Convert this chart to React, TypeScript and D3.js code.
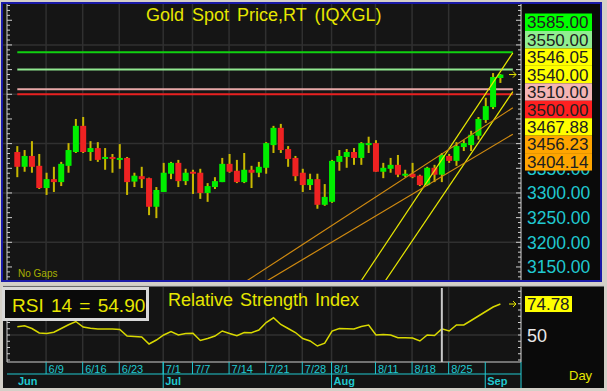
import React from 'react';
import * as d3 from 'd3';

const W = 607, H = 391;
const FONT = "'Liberation Sans', Arial, Helvetica, sans-serif";

const dates = [
  '6/3','6/4','6/5','6/6','6/9','6/10','6/11','6/12','6/13','6/16','6/17','6/18','6/19','6/20','6/23','6/24','6/25','6/26','6/27','6/30',
  '7/1','7/2','7/3','7/4','7/7','7/8','7/9','7/10','7/11','7/14','7/15','7/16','7/17','7/18','7/21','7/22','7/23','7/24','7/25','7/28','7/29','7/30','7/31',
  '8/1','8/4','8/5','8/6','8/7','8/8','8/11','8/12','8/13','8/14','8/15','8/18','8/19','8/20','8/21','8/22','8/25','8/26','8/27','8/28','8/29',
  '9/1','9/2','9/3'
];
const opens = [3383,3353,3375,3355,3310,3328,3322,3355,3383,3436,3383,3391,3369,3373,3367,3371,3323,3334,3330,3272,3302,3339,3361,3324,3343,3341,3300,3312,3322,3359,3345,3322,3347,3341,3351,3397,3432,3389,3371,3341,3316,3328,3276,3282,3363,3373,3383,3371,3397,3401,3343,3349,3357,3335,3339,3335,3316,3351,3337,3375,3365,3393,3397,3416,3448,3474,3533];
const highs = [3395,3387,3405,3379,3341,3353,3363,3401,3450,3454,3405,3403,3391,3379,3399,3373,3341,3353,3331,3312,3361,3363,3367,3349,3347,3349,3320,3332,3371,3379,3367,3381,3355,3363,3403,3436,3440,3395,3375,3349,3339,3339,3318,3367,3387,3389,3391,3403,3414,3407,3361,3371,3377,3347,3361,3337,3353,3357,3381,3379,3403,3407,3426,3454,3493,3543,3541];
const lows = [3332,3343,3341,3308,3296,3302,3314,3341,3381,3381,3365,3363,3347,3341,3349,3296,3312,3310,3255,3249,3302,3328,3312,3316,3298,3288,3282,3308,3322,3341,3320,3320,3310,3332,3339,3381,3381,3353,3324,3302,3306,3268,3274,3280,3345,3351,3357,3357,3381,3343,3330,3341,3332,3332,3330,3314,3314,3322,3322,3361,3355,3385,3385,3408,3442,3470,3523];
const closes = [3353,3375,3353,3310,3328,3322,3359,3387,3436,3383,3391,3367,3373,3369,3371,3322,3335,3328,3272,3306,3341,3361,3324,3341,3339,3300,3314,3324,3359,3343,3322,3347,3341,3353,3401,3432,3387,3369,3334,3316,3328,3276,3292,3365,3375,3383,3371,3401,3401,3343,3351,3357,3337,3339,3332,3316,3351,3337,3377,3365,3395,3401,3418,3450,3476,3535,3540];
const rsi = [56.6,57.4,55.2,51.6,51.2,52.2,55.2,58.2,60.8,56.4,
  55.4,54.8,54.8,54.8,54.4,49.2,48.8,48.4,42.8,46,
  50,52.8,50,51.2,51.4,45.6,47.2,49.2,53.2,51.2,
  49.4,52,51.9,54,60,63.8,58.4,55.2,52,47.2,
  45.2,41.2,43.4,53.2,55.2,55,54.8,56.8,58,50,
  50.4,50,47.8,47.8,47.6,45.2,50,49.6,54.9,53.2,
  58,58,61.6,65.2,68.8,72.4,74.78];

const tickDates = ['6/9','6/16','6/23','7/1','7/7','7/14','7/21','7/28','8/1','8/11','8/18','8/25'];
const monthNames = ['Jun','Jul','Aug','Sep'];
const monthStarts = ['6/3','7/1','8/1','9/1'];

const levelValues = [3585, 3550, 3510, 3500];
const levelColors = ['#10d010', '#90e890', '#e8a8a8', '#e82020'];

const trendEndValues = [3546.05, 3467.88, 3456.23, 3404.14];
const trendSlopes = [22.3, 22.0, 9.65, 8.85];
const trendColors = ['#e8e800', '#e8e800', '#d08a10', '#d08a10'];

const boxLabels = ['3585.00','3550.00','3546.05','3540.00','3510.00','3500.00','3467.88','3456.23','3404.14'];
const boxColors = ['#00ff00','#90ee90','#ffff00','#ffff00','#f4b4b4','#ff2020','#ffff00','#ffa500','#ffa500'];
const axisValues = [3350, 3300, 3250, 3200, 3150];
const gridValues = [3200, 3300, 3400, 3500, 3600];

const rsiLabel = 'RSI 14 = 54.90';
const rsiLast = 74.78;

export default function App() {
  const xi = d3.scaleLinear().domain([0, dates.length - 1]).range([17.3, 500.4]);
  const xd = (d: string) => xi(dates.indexOf(d));
  const y = d3.scaleLinear().domain([3125, 3683]).range([279.3, 4]);
  const yr = d3.scaleLinear().domain([28.4, 88.4]).range([362, 287]);
  const last = dates.length - 1;
  const xEnd = 67.7;

  const rsiLine = d3.line<number>().x((_, i) => xi(i)).y(d => yr(d));

  const yTicks = d3.range(3130, 3681, 10);
  const rTicks = d3.range(30, 88, 5);

  const PL = 3, PR = 521, PT = 4, PB = 280;
  const BH = 17.45;

  return (
    <div style={{ position: 'fixed', left: 0, top: 0 }}>
      <svg width={W} height={H} style={{ display: 'block', fontFamily: FONT }}>
        <defs>
          <clipPath id="plotclip"><rect x={PL} y={PT} width={PR - PL} height={PB - PT} /></clipPath>
        </defs>
        <rect x={0} y={0} width={W} height={H} fill="#d4d0c8" />
        {/* top panel */}
        <rect x={2} y={3} width={599} height={278} fill="#151515" stroke="#1a1aa8" strokeWidth={2} />
        <rect x={522} y={4} width={78} height={276} fill="#0a0a0a" />
        {/* grid */}
        {gridValues.map(v => (
          <line key={v} x1={PL} x2={PR} y1={y(v)} y2={y(v)} stroke="#303030" strokeWidth={1.5} />
        ))}
        {tickDates.map(d => (
          <line key={d} x1={xd(d) - 0.5} x2={xd(d) - 0.5} y1={PT} y2={PB} stroke="#303030" strokeWidth={1.5} />
        ))}
        {/* left / right ticks */}
        <line x1={7} x2={7} y1={PT} y2={PB} stroke="#d0d0d0" strokeWidth={1} />
        {yTicks.map(v => (
          <g key={v}>
            <line x1={7} x2={v % 50 === 0 ? 12 : 10} y1={y(v)} y2={y(v)} stroke="#d0d0d0" strokeWidth={1} />
            <line x1={v % 50 === 0 ? 516 : 518} x2={521} y1={y(v)} y2={y(v)} stroke="#d0d0d0" strokeWidth={1} />
          </g>
        ))}
        <line x1={521} x2={521} y1={PT} y2={PB} stroke="#d0d0d0" strokeWidth={1} />
        {/* title */}
        <text x={146} y={21} fill="#e6e600" fontSize={18} wordSpacing={3}>Gold Spot Price,RT (IQXGL)</text>
        {/* level lines */}
        {levelValues.map((v, i) => (
          <line key={v} x1={xi(0)} x2={xi(xEnd)} y1={y(v)} y2={y(v)} stroke={levelColors[i]} strokeWidth={2} />
        ))}
        {/* candles */}
        {dates.map((d, i) => {
          const up = closes[i] >= opens[i];
          const cx = xi(i);
          const top = y(Math.max(opens[i], closes[i]));
          const bot = y(Math.min(opens[i], closes[i]));
          return (
            <g key={d}>
              <rect x={cx - 1} y={y(highs[i])} width={2} height={Math.max(1, y(lows[i]) - y(highs[i]))} fill="#c8b800" />
              <rect x={cx - 3} y={top} width={6} height={Math.max(1.5, bot - top)} fill={up ? '#00ee00' : '#ee2222'} />
            </g>
          );
        })}
        {/* trend lines */}
        <g clipPath="url(#plotclip)">
          {trendEndValues.map((v, k) => {
            const i0 = last - (v - 3100) / trendSlopes[k];
            const v1 = v + (xEnd - last) * trendSlopes[k];
            return (
              <line key={k} x1={xi(i0)} y1={y(3100)} x2={xi(xEnd)} y2={y(v1)} stroke={trendColors[k]} strokeWidth={1.2} />
            );
          })}
        </g>
        {/* arrow to last price */}
        <g stroke="#e8e800" strokeWidth={1} fill="none">
          <line x1={509} x2={516} y1={y(closes[last])} y2={y(closes[last])} />
          <path d={`M${513},${y(closes[last]) - 3} L${516},${y(closes[last])} L${513},${y(closes[last]) + 3}`} />
        </g>
        <text x={18} y={277} fill="#a8b000" fontSize={10}>No Gaps</text>
        {/* right axis labels */}
        {axisValues.map(v => (
          <text key={v} x={527} y={y(v) + 6.5} fill="#20c8d0" fontSize={17.5}>{v.toFixed(2)}</text>
        ))}
        {boxLabels.map((t, i) => (
          <g key={t}>
            <rect x={525} y={13.5 + i * BH} width={67} height={BH} fill={boxColors[i]} />
            <text x={527} y={13.5 + i * BH + 14.8} fill="#202020" fontSize={17}>{t}</text>
          </g>
        ))}

        {/* RSI panel */}
        <rect x={3} y={286} width={601} height={102} fill="#141414" />
        <rect x={522} y={286} width={82} height={102} fill="#0a0a0a" />
        <line x1={3} x2={604} y1={286} y2={286} stroke="#c0c0c0" strokeWidth={1} />
        <line x1={7} x2={521} y1={yr(50)} y2={yr(50)} stroke="#303030" strokeWidth={1.5} />
        {tickDates.map(d => (
          <line key={d} x1={xd(d) - 0.5} x2={xd(d) - 0.5} y1={287} y2={362} stroke="#303030" strokeWidth={1.5} />
        ))}
        <line x1={7} x2={7} y1={287} y2={362} stroke="#d0d0d0" strokeWidth={1} />
        <line x1={521} x2={521} y1={287} y2={362} stroke="#d0d0d0" strokeWidth={1} />
        {rTicks.map(v => (
          <g key={v}>
            <line x1={7} x2={10} y1={yr(v)} y2={yr(v)} stroke="#d0d0d0" />
            <line x1={518} x2={521} y1={yr(v)} y2={yr(v)} stroke="#d0d0d0" />
          </g>
        ))}
        <path d={rsiLine(rsi) || ''} fill="none" stroke="#d8d800" strokeWidth={1.5} />
        <line x1={xd('8/22')} x2={xd('8/22')} y1={288} y2={362} stroke="#c8c8c8" strokeWidth={2} />
        <text x={168} y={306} fill="#e6e600" fontSize={18} wordSpacing={2}>Relative Strength Index</text>
        <rect x={3.5} y={288.5} width={144} height={31} fill="#0a0a0a" stroke="#d8d8d8" strokeWidth={3} />
        <text x={12} y={312} fill="#e6e600" fontSize={19} wordSpacing={2}>{rsiLabel}</text>
        <g stroke="#e8e800" strokeWidth={1} fill="none">
          <line x1={509} x2={516} y1={yr(rsiLast)} y2={yr(rsiLast)} />
          <path d={`M${513},${yr(rsiLast) - 3} L${516},${yr(rsiLast)} L${513},${yr(rsiLast) + 3}`} />
        </g>
        <rect x={525} y={yr(rsiLast) - 8} width={47} height={16} fill="#ffff00" />
        <text x={527} y={yr(rsiLast) + 6} fill="#202020" fontSize={17}>{rsiLast.toFixed(2)}</text>
        <text x={527} y={yr(50) + 7} fill="#e8e8e8" fontSize={18}>50</text>
        {/* date axis */}
        <line x1={7} x2={521} y1={362} y2={362} stroke="#d0d0d0" strokeWidth={1} />
        <line x1={7} x2={521} y1={374} y2={374} stroke="#20c8d0" strokeWidth={1} />
        <line x1={521} x2={521} y1={362} y2={388} stroke="#20c8d0" strokeWidth={1} />
        {tickDates.map(d => (
          <g key={d}>
            <line x1={xd(d) - 0.5} x2={xd(d) - 0.5} y1={362} y2={374} stroke="#20c8d0" strokeWidth={1} />
            <text x={xd(d) + 2} y={373} fill="#20c8d0" fontSize={11}>{d}</text>
          </g>
        ))}
        {monthNames.map((m, i) => {
          const mx = i === 0 ? 16 : xd(monthStarts[i]) - 0.5;
          return (
            <g key={m}>
              {i > 0 && <line x1={mx} x2={mx} y1={362} y2={388} stroke="#20c8d0" strokeWidth={1} />}
              <text x={mx + 2} y={385} fill="#20c8d0" fontSize={11} fontWeight="bold">{m}</text>
            </g>
          );
        })}
        <text x={569} y={380} fill="#e6e600" fontSize={13}>Day</text>
      </svg>
    </div>
  );
}
